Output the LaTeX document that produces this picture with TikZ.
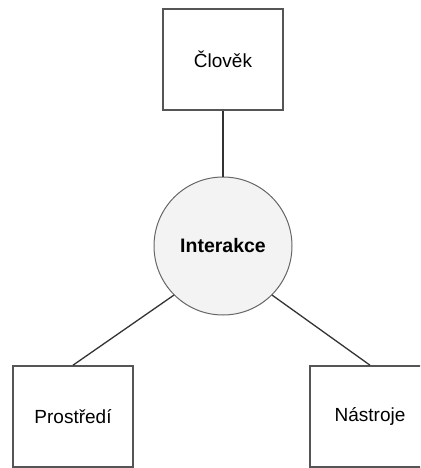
\documentclass[tikz,border=0pt]{standalone}
\usepackage{fontspec}
\setmainfont{Liberation Sans}
\definecolor{boxline}{HTML}{555555}
\definecolor{conn}{HTML}{333333}
\definecolor{circfill}{HTML}{F3F3F3}
\definecolor{circline}{HTML}{666666}
\begin{document}
\begin{tikzpicture}[x=1pt,y=-1pt,
  box/.style={draw=boxline, line width=1.6pt, fill=white, minimum width=120pt, minimum height=101pt, inner sep=0pt,
    font=\fontsize{19}{23}\selectfont},
  hub/.style={circle, draw=circline, line width=1pt, fill=circfill, minimum size=138pt, inner sep=0pt,
    font=\bfseries\fontsize{19.5}{23}\selectfont},
  conn/.style={draw=conn, line width=1.3pt}]
\useasboundingbox (0,0) rectangle (420,468);
\clip (0,0) rectangle (420,468);
\node[box] (clovek) at (223,59.5) {Člověk};
\node[hub] (inter) at (223,246) {Interakce};
\node[box] (prostredi) at (73,416.5) {Prostředí};
\node[box] (nastroje) at (370,416.5) {Nástroje};
\draw[conn] (inter.north) -- (clovek.south);
\draw[conn] (inter.225) -- (prostredi.north);
\draw[conn] (inter.315) -- (nastroje.north);
\end{tikzpicture}
\end{document}
